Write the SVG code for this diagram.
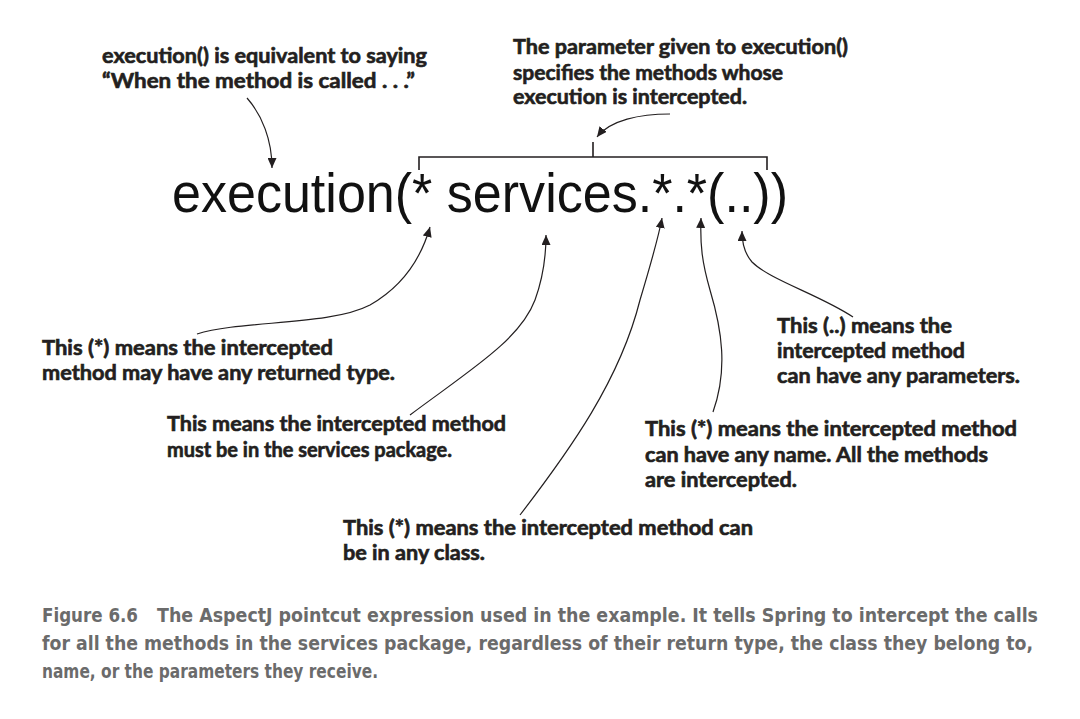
<svg xmlns="http://www.w3.org/2000/svg" width="1080" height="719" viewBox="0 0 1080 719">
<style>
.lbl{font-family:Lato,"Open Sans","Liberation Sans",sans-serif;font-weight:bold;font-size:20px;fill:#231f20;stroke:#231f20;stroke-width:0.6}
.expr{font-family:"Liberation Sans",Arial,sans-serif;font-size:55px;fill:#111}
.cap{font-family:"Liberation Sans Narrow","DejaVu Sans Condensed","Liberation Sans",sans-serif;font-weight:bold;font-size:20px;fill:#6b6b6b}
.con{fill:none;stroke:#231f20;stroke-width:1.2}
.br{fill:none;stroke:#231f20;stroke-width:1.6}
</style>
<defs>
<marker id="ah" markerUnits="userSpaceOnUse" markerWidth="10" markerHeight="9" refX="10" refY="4.5" orient="auto">
<path d="M0,0 L10,4.5 L0,9 z" fill="#231f20"/>
</marker>
</defs>
<rect width="1080" height="719" fill="#fff"/>

<g id="expression">
<text class="expr" x="172" y="212" textLength="616" lengthAdjust="spacingAndGlyphs">execution(* services.*.*(..))</text>
<path class="br" d="M419,170 V157 H767 V170 M593,157 V142"/>
</g>

<g id="note-execution">
<text class="lbl" x="102" y="63" textLength="325" lengthAdjust="spacingAndGlyphs">execution() is equivalent to saying</text>
<text class="lbl" x="102" y="88" textLength="313" lengthAdjust="spacingAndGlyphs">“When the method is called . . .”</text>
</g>

<g id="note-parameter">
<text class="lbl" x="513" y="54" textLength="335" lengthAdjust="spacingAndGlyphs">The parameter given to execution()</text>
<text class="lbl" x="513" y="80" textLength="270" lengthAdjust="spacingAndGlyphs">specifies the methods whose</text>
<text class="lbl" x="513" y="104" textLength="234" lengthAdjust="spacingAndGlyphs">execution is intercepted.</text>
</g>

<g id="note-return-type">
<text class="lbl" x="42" y="355" textLength="291" lengthAdjust="spacingAndGlyphs">This (*) means the intercepted</text>
<text class="lbl" x="42" y="380" textLength="353" lengthAdjust="spacingAndGlyphs">method may have any returned type.</text>
</g>

<g id="note-package">
<text class="lbl" x="167" y="431" textLength="339" lengthAdjust="spacingAndGlyphs">This means the intercepted method</text>
<text class="lbl" x="167" y="457" textLength="285" lengthAdjust="spacingAndGlyphs">must be in the services package.</text>
</g>

<g id="note-class">
<text class="lbl" x="343" y="535" textLength="410" lengthAdjust="spacingAndGlyphs">This (*) means the intercepted method can</text>
<text class="lbl" x="343" y="560" textLength="142" lengthAdjust="spacingAndGlyphs">be in any class.</text>
</g>

<g id="note-name">
<text class="lbl" x="645" y="436" textLength="372" lengthAdjust="spacingAndGlyphs">This (*) means the intercepted method</text>
<text class="lbl" x="645" y="462" textLength="343" lengthAdjust="spacingAndGlyphs">can have any name. All the methods</text>
<text class="lbl" x="645" y="487" textLength="152" lengthAdjust="spacingAndGlyphs">are intercepted.</text>
</g>

<g id="note-parameters">
<text class="lbl" x="777" y="333" textLength="175" lengthAdjust="spacingAndGlyphs">This (..) means the</text>
<text class="lbl" x="777" y="358" textLength="188" lengthAdjust="spacingAndGlyphs">intercepted method</text>
<text class="lbl" x="777" y="383" textLength="243" lengthAdjust="spacingAndGlyphs">can have any parameters.</text>
</g>

<g id="connectors">
<path class="con" marker-end="url(#ah)" d="M247,98 C262,115 272,140 272,168"/>
<path class="con" marker-end="url(#ah)" d="M670,114 C640,114 610,120 597,137"/>
<path class="con" marker-end="url(#ah)" d="M197,334 C240,320 330,326 370,305 C405,285 422,255 430,227"/>
<path class="con" marker-end="url(#ah)" d="M410,415 C470,370 520,340 535,300 C543,278 546,258 546,235"/>
<path class="con" marker-end="url(#ah)" d="M520,515 C570,450 620,380 640,300 C652,260 658,240 662,218"/>
<path class="con" marker-end="url(#ah)" d="M713,412 C728,370 722,330 710,290 C702,262 700,245 701,218"/>
<path class="con" marker-end="url(#ah)" d="M853,317 C820,295 770,280 752,262 C745,254 742,244 742,231"/>
</g>

<g id="caption">
<text class="cap" x="42" y="622" textLength="96" lengthAdjust="spacingAndGlyphs">Figure 6.6</text>
<text class="cap" x="157" y="622" textLength="881" lengthAdjust="spacingAndGlyphs">The AspectJ pointcut expression used in the example. It tells Spring to intercept the calls</text>
<text class="cap" x="42" y="650" textLength="991" lengthAdjust="spacingAndGlyphs">for all the methods in the services package, regardless of their return type, the class they belong to,</text>
<text class="cap" x="42" y="678" textLength="336" lengthAdjust="spacingAndGlyphs">name, or the parameters they receive.</text>
</g>
</svg>
